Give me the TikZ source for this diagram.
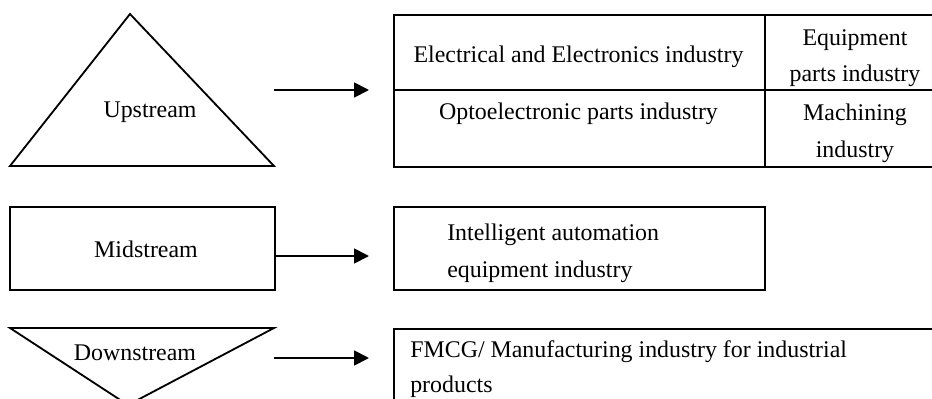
\documentclass[tikz,border=0pt]{standalone}
\usepackage{fontspec}
\setmainfont{Liberation Serif}
\usetikzlibrary{arrows.meta}

\begin{document}
\begin{tikzpicture}[
    box/.style={draw=black, line width=1.3pt, inner sep=0pt, anchor=north west},
    lbl/.style={anchor=base, inner sep=0pt, font=\fontsize{17pt}{26.3pt}\selectfont},
    arr/.style={line width=1.3pt, -{Triangle[length=0.375cm, width=0.375cm]}}]

    \useasboundingbox (0, 0) rectangle (23.3, 9.95);

    % Upstream
    \draw[line width=1.3pt] (0.25, 5.8) -- (3.25, 9.6) -- (6.85, 5.8) -- cycle;
    \node[lbl] (up) at (3.75, 7.025) {Upstream};
    \coordinate (upOut) at (6.85, 7.7);
    \coordinate (upIn) at (9.225, 7.7);
    \draw[arr] (upOut) -- (upIn);

    % Upstream table
    \node[box, minimum width=9.275cm, minimum height=1.875cm] (elec) at (9.825, 9.6) {};
    \node[box, minimum width=9.275cm, minimum height=1.925cm] (opto) at (9.825, 7.725) {};
    \node[box, minimum width=4.4cm, minimum height=1.875cm] (equip) at (19.1, 9.6) {};
    \node[box, minimum width=4.4cm, minimum height=1.925cm] (mach) at (19.1, 7.725) {};
    \node[lbl] (elecTxt) at (14.4625, 8.375) {Electrical and Electronics industry};
    \node[lbl] (optoTxt) at (14.4625, 6.975) {Optoelectronic parts industry};
    \node[lbl, align=center] (equipTxt) at (21.375, 7.9) {Equipment\\parts industry};
    \node[lbl, align=center] (machTxt) at (21.375, 6.025) {Machining\\industry};

    % Midstream
    \node[box, minimum width=6.625cm, minimum height=2.075cm] (mid) at (0.225, 4.8) {};
    \node[lbl] (midTxt) at (3.65, 3.525) {Midstream};
    \coordinate (midOut) at (6.85, 3.55);
    \coordinate (midIn) at (9.225, 3.55);
    \draw[arr] (midOut) -- (midIn);
    \node[box, minimum width=9.275cm, minimum height=2.075cm] (auto) at (9.825, 4.8) {};
    \node[lbl, anchor=base west, align=left] (autoTxt) at (11.175, 3.025)
        {Intelligent automation\\equipment industry};

    % Downstream
    \draw[line width=1.3pt] (0.25, 1.75) -- (6.85, 1.75) -- (3.2, -0.175) -- cycle;
    \node[lbl] (down) at (3.375, 0.95) {Downstream};
    \coordinate (downOut) at (6.85, 1.0);
    \coordinate (downIn) at (9.225, 1.0);
    \draw[arr] (downOut) -- (downIn);
    \node[box, minimum width=14cm, minimum height=2.5cm] (fmcg) at (9.825, 1.75) {};
    \node[lbl, anchor=base west, align=left,
        font=\fontsize{17pt}{24.2pt}\selectfont] (fmcgTxt) at (10.25, 0.15)
        {FMCG/ Manufacturing industry for industrial\\products};

\end{tikzpicture}
\end{document}
